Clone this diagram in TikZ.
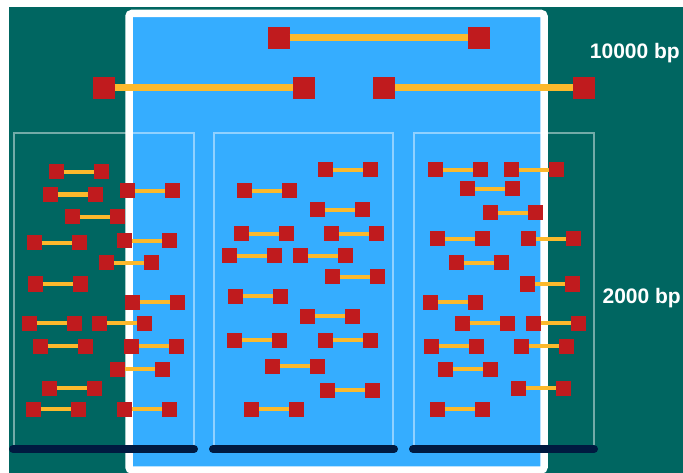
\documentclass[tikz,border=0pt]{standalone}
\usepackage{fontspec}
\setmainfont{Liberation Sans}
\definecolor{teal1}{RGB}{0,102,97}
\definecolor{blue1}{RGB}{53,173,255}
\definecolor{red1}{RGB}{192,27,30}
\definecolor{yel1}{RGB}{252,185,44}
\definecolor{navy1}{RGB}{0,26,64}
\tikzset{
  sq/.style={fill=red1, draw=none, minimum size=15pt, inner sep=0pt, outer sep=0pt},
  bigsq/.style={fill=red1, draw=none, minimum size=22pt, inner sep=0pt, outer sep=0pt},
  link/.style={yel1, line width=4.5pt},
  biglink/.style={yel1, line width=7pt},
  subbox/.style={draw=white, draw opacity=0.45, line width=1.8pt},
  base/.style={navy1, line width=8pt, line cap=round},
  lab/.style={text=white, font=\bfseries\fontsize{21}{25}\selectfont, inner sep=0pt},
}
\begin{document}
\begin{tikzpicture}[x=1pt, y=-1pt]
\useasboundingbox (0,0) rectangle (683,473);
\fill[white] (0,0) rectangle (683,473);
\fill[teal1] (9,7) rectangle (683,473);
% main blue region
\draw[white, line width=7.5pt, fill=blue1, rounded corners=3pt] (129,13.5) rectangle (544,470);
% sub boxes
\draw[subbox] (14,449) -- (14,133) -- (194,133) -- (194,449);
\draw[subbox] (214,449) -- (214,133) -- (393,133) -- (393,449);
\draw[subbox] (414,449) -- (414,133) -- (594,133) -- (594,449);
% base bars
\coordinate (b1l) at (13,449); \coordinate (b1r) at (194,449);
\coordinate (b2l) at (213,449); \coordinate (b2r) at (394,449);
\coordinate (b3l) at (413,449); \coordinate (b3r) at (594,449);
\draw[base] (b1l) -- (b1r);
\draw[base] (b2l) -- (b2r);
\draw[base] (b3l) -- (b3r);
% big fragments (10000 bp)
\node[bigsq] (T1a) at (278.5,38) {};
\node[bigsq] (T1b) at (478.5,38) {};
\draw[biglink] (T1a) -- (T1b);
\node[bigsq] (T2a) at (103.5,88) {};
\node[bigsq] (T2b) at (303.5,88) {};
\draw[biglink] (T2a) -- (T2b);
\node[bigsq] (T3a) at (384,88) {};
\node[bigsq] (T3b) at (584,88) {};
\draw[biglink] (T3a) -- (T3b);
% small fragments (2000 bp)
\foreach \x/\y [count=\i] in {
  56/172, 50/194.5, 127/191, 72/217, 34/243, 124/241, 106/263, 35/284,
  132/302, 29/323, 99/323, 40/346, 131/346, 117/369, 49/388, 33/409, 124/409,
  325/170, 244/191, 317/210, 241/234, 331/234, 229/256, 300/256, 332/277,
  235/296, 307/316, 234/340, 325/340, 272/366, 327/390, 251/409,
  435/170, 511/170, 467/189, 490/213, 437/239, 528/239, 456/263, 527/284,
  430/302, 462/323, 533/323, 431/346, 521/346, 445/369, 518/388, 437/409}
{
  \node[sq] (s\i a) at (\x,\y) {};
  \node[sq] (s\i b) at (\x+45,\y) {};
  \draw[link] (s\i a) -- (s\i b);
}
% labels
\node[lab, anchor=base east] (l1) at (680,59) {10000 bp};
\node[lab, anchor=base east] (l2) at (681,303) {2000 bp};
\end{tikzpicture}
\end{document}
